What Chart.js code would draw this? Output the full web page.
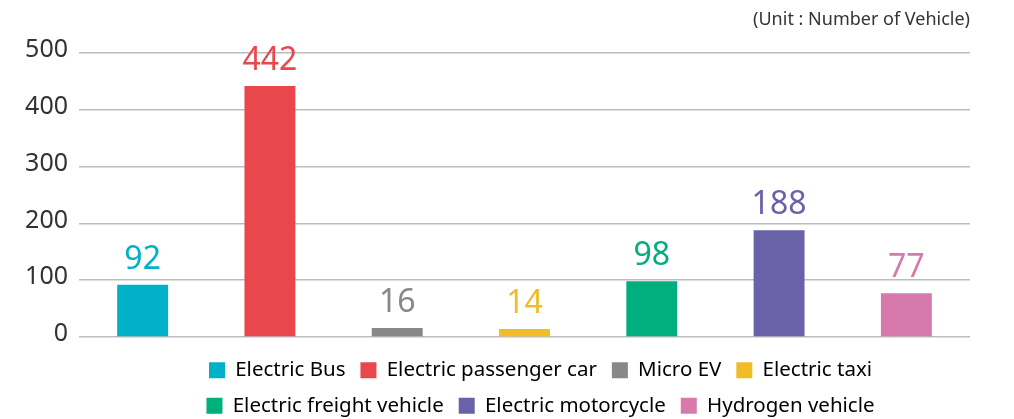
<!DOCTYPE html>
<html>
<head>
<meta charset="utf-8">
<script src="https://cdn.jsdelivr.net/npm/chart.js@4/dist/chart.umd.min.js"></script>
<style>
  html, body { margin: 0; padding: 0; background: #ffffff; }
  #wrap { width: 1014px; height: 419px; position: relative; }
</style>
</head>
<body>
<div id="wrap"><canvas id="c"></canvas></div>
<script>
const categories = ["Electric Bus", "Electric passenger car", "Micro EV", "Electric taxi", "Electric freight vehicle", "Electric motorcycle", "Hydrogen vehicle"];
const vehicleCounts = [92, 442, 16, 14, 98, 188, 77];
const barColors = ["#00b1c9", "#e8474b", "#888888", "#f0bd27", "#00ae7e", "#6a62a9", "#d879ad"];
const yTicks = [0, 100, 200, 300, 400, 500];
const unitText = "(Unit : Number of Vehicle)";

const FONT = "'Noto Sans', sans-serif";

const valueLabels = {
  id: 'valueLabels',
  afterDatasetsDraw(chart) {
    const ctx = chart.ctx;
    const meta = chart.getDatasetMeta(0);
    ctx.save();
    ctx.font = "32px " + FONT;
    ctx.textAlign = 'center';
    ctx.textBaseline = 'alphabetic';
    meta.data.forEach((el, i) => {
      ctx.fillStyle = barColors[i];
      ctx.fillText(String(vehicleCounts[i]), el.x, el.y - 16);
    });
    ctx.restore();
  }
};

const unitLabel = {
  id: 'unitLabel',
  afterDraw(chart) {
    const ctx = chart.ctx;
    ctx.save();
    ctx.font = "18px " + FONT;
    ctx.fillStyle = '#333333';
    ctx.textAlign = 'right';
    ctx.textBaseline = 'middle';
    ctx.fillText(unitText, chart.chartArea.right, 20);
    ctx.restore();
  }
};

const legendShift = {
  id: 'legendShift',
  afterLayout(chart) {
    const lg = chart.legend;
    if (!lg) return;
    lg.left += 16; lg.right += 16;
    lg.top += 8; lg.bottom += 8;
  }
};

new Chart(document.getElementById('c'), {
  type: 'bar',
  data: {
    labels: categories,
    datasets: [{
      data: vehicleCounts,
      backgroundColor: barColors,
      borderWidth: 0,
      barPercentage: 0.4,
      categoryPercentage: 1.0
    }]
  },
  options: {
    responsive: true,
    maintainAspectRatio: false,
    animation: false,
    layout: { padding: { left: 0, right: 44, top: 53, bottom: 1 } },
    scales: {
      x: { display: false },
      y: {
        min: 0,
        max: 500,
        afterBuildTicks(scale) { scale.ticks = yTicks.map(v => ({ value: v })); },
        afterFit(scale) { scale.width = 79; },
        border: { display: false },
        grid: { color: '#bdbdbd', lineWidth: 1.5, drawTicks: false },
        ticks: {
          padding: 11,
          labelOffset: -3,
          color: '#333333',
          font: { family: FONT, size: 25 }
        }
      }
    },
    plugins: {
      tooltip: { enabled: false },
      legend: {
        position: 'bottom',
        fullSize: false,
        labels: {
          boxWidth: 16,
          boxHeight: 16,
          padding: 15,
          color: '#222222',
          font: { family: FONT, size: 20.5 },
          generateLabels(chart) {
            return categories.map((c, i) => ({
              text: c,
              fillStyle: barColors[i],
              strokeStyle: barColors[i],
              lineWidth: 0,
              hidden: false,
              index: i,
              datasetIndex: 0
            }));
          }
        }
      }
    }
  },
  plugins: [valueLabels, unitLabel, legendShift]
});
</script>
</body>
</html>
